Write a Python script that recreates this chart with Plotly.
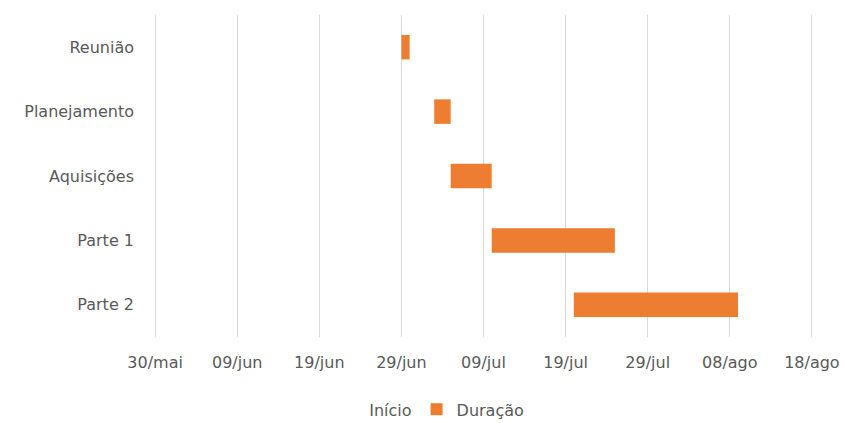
import plotly.graph_objects as go

tasks = ["Reunião", "Planejamento", "Aquisições", "Parte 1", "Parte 2"]
start_dates = ["2017-06-29", "2017-07-03", "2017-07-05", "2017-07-10", "2017-07-20"]
durations_days = [1, 2, 5, 15, 20]
tick_dates = ["2017-05-30", "2017-06-09", "2017-06-19", "2017-06-29", "2017-07-09",
              "2017-07-19", "2017-07-29", "2017-08-08", "2017-08-18"]
tick_labels = ["30/mai", "09/jun", "19/jun", "29/jun", "09/jul", "19/jul", "29/jul", "08/ago", "18/ago"]
axis_range = ["2017-05-29 12:00", "2017-08-18 12:00"]

DAY_MS = 86400000
font_family = "DejaVu Sans, sans-serif"
grey = "#595959"

fig = go.Figure()
fig.add_trace(go.Bar(
    name="Início", y=tasks, x=start_dates, orientation="h",
    marker=dict(color="rgba(0,0,0,0)", line=dict(width=0)), width=0.38,
    hoverinfo="skip",
))
fig.add_trace(go.Bar(
    name="Duração", y=tasks, base=start_dates,
    x=[d * DAY_MS for d in durations_days], orientation="h",
    marker=dict(color="#ED7D31", line=dict(width=0)), width=0.38,
))

fig.update_layout(
    width=845, height=423,
    margin=dict(l=151, r=29, t=15, b=86, autoexpand=False),
    paper_bgcolor="white", plot_bgcolor="white",
    barmode="overlay",
    font=dict(family=font_family, size=16, color=grey),
    showlegend=True,
    legend=dict(orientation="h", x=0.268, xanchor="left", y=-0.225, yanchor="middle",
                font=dict(size=16, color=grey), itemwidth=30, traceorder="normal"),
    xaxis=dict(type="date", range=axis_range,
               tickvals=tick_dates, ticktext=tick_labels,
               showgrid=True, gridcolor="#D9D9D9", gridwidth=1,
               showline=False, zeroline=False, ticks="", ticklabelstandoff=14),
    yaxis=dict(autorange="reversed", showgrid=False, showline=False,
               ticks="", ticklabelstandoff=16),
)

fig.write_html("out.html")
